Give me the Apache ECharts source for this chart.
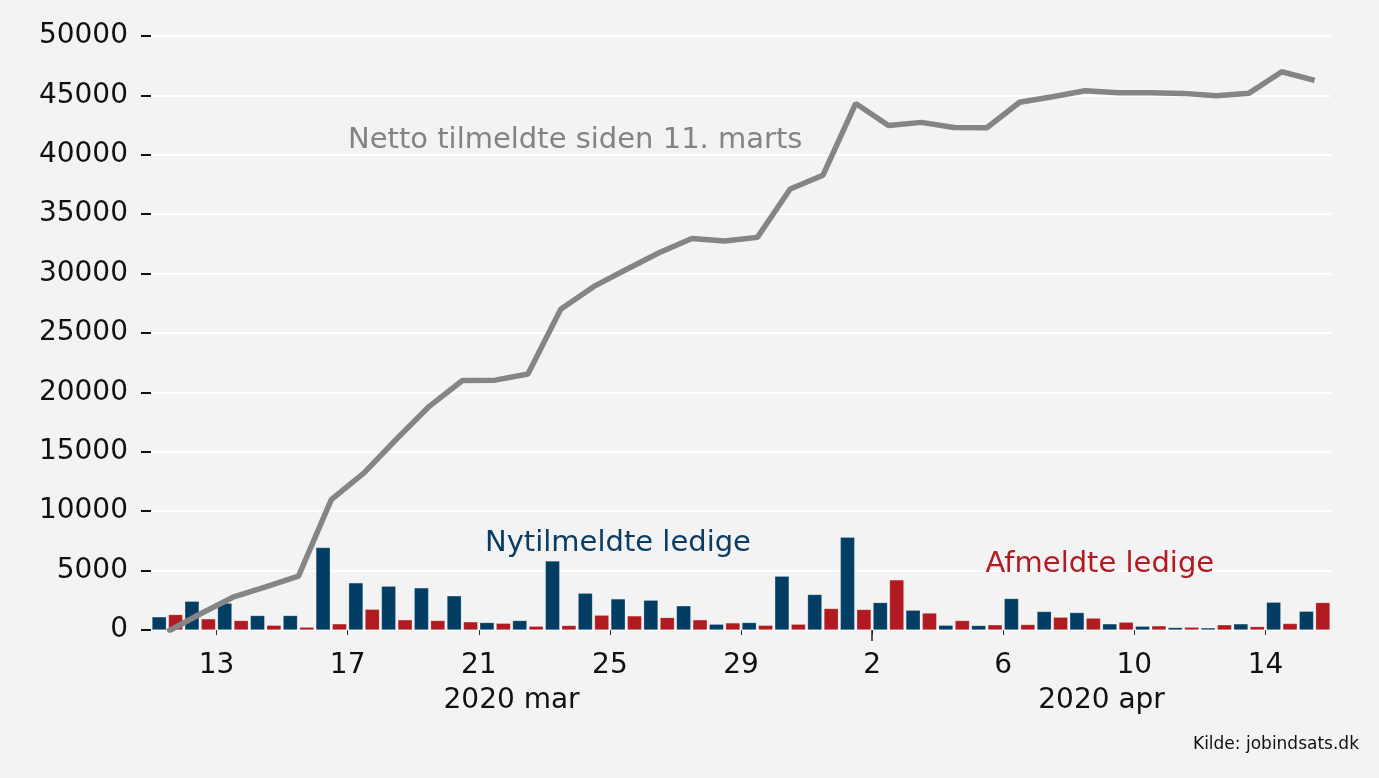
<!DOCTYPE html>
<html>
<head>
<meta charset="utf-8">
<script src="https://cdn.jsdelivr.net/npm/echarts@6.0.0/dist/echarts.min.js"></script>
<style>
  html, body { margin: 0; padding: 0; background: #f3f3f3; }
  #chart { width: 1379px; height: 778px; }
</style>
</head>
<body>
<div id="chart"></div>
<script>
// dage (hver dag fylder et bånd fra midnat til midnat)
const days = [
  '2020-03-11', '2020-03-12', '2020-03-13', '2020-03-14', '2020-03-15', '2020-03-16',
  '2020-03-17', '2020-03-18', '2020-03-19', '2020-03-20', '2020-03-21', '2020-03-22',
  '2020-03-23', '2020-03-24', '2020-03-25', '2020-03-26', '2020-03-27', '2020-03-28',
  '2020-03-29', '2020-03-30', '2020-03-31', '2020-04-01', '2020-04-02', '2020-04-03',
  '2020-04-04', '2020-04-05', '2020-04-06', '2020-04-07', '2020-04-08', '2020-04-09',
  '2020-04-10', '2020-04-11', '2020-04-12', '2020-04-13', '2020-04-14', '2020-04-15'
]
const nytilmeldte = [
  1110, 2420, 2260, 1220, 1220, 6940, 3970, 3690, 3550, 2880, 630, 800,
  5820, 3100, 2620, 2510, 2040, 490, 630, 4530, 2990, 7810, 2310, 1670,
  400, 380, 2650, 1560, 1470, 520, 320, 210, 180, 520, 2340, 1580
]
const afmeldte = [
  1300, 940, 800, 400, 240, 520, 1750, 860, 800, 690, 570, 320,
  380, 1250, 1190, 1050, 860, 600, 400, 490, 1810, 1730, 4220, 1430,
  800, 440, 460, 1080, 1000, 660, 350, 240, 440, 290, 550, 2310
]
const netto = [
  -150, 1350, 2760, 3630, 4540, 10980, 13230, 16100, 18850, 21000, 21030, 21550,
  27000, 28900, 30350, 31750, 32950, 32750, 33050, 37120, 38280, 44320, 42470, 42730,
  42300, 42280, 44420, 44890, 45390, 45220, 45220, 45170, 44970, 45190, 46990, 46260
]
// akser
const xTickDays = ['2020-03-13', '2020-03-17', '2020-03-21', '2020-03-25', '2020-03-29',
  '2020-04-02', '2020-04-06', '2020-04-10', '2020-04-14']
const xTickLabels = ['13', '17', '21', '25', '29', '2', '6', '10', '14']
const monthLabels = ['2020 mar', '2020 apr']
const monthLabelAt = [11, 29]
const yMin = 0
const yMax = 50000
const yStep = 5000

const font = 'DejaVu Sans'
const tickPos = xTickDays.map(d => days.indexOf(d))
const toPoints = arr => arr.map((v, i) => [i + 0.5, v])

const myChart = echarts.init(document.getElementById('chart'))
myChart.setOption({
  animation: false,
  backgroundColor: '#f3f3f3',
  textStyle: { fontFamily: font },
  title: {
    text: 'Kilde: jobindsats.dk',
    right: 20,
    top: 736,
    padding: 0,
    textStyle: { fontFamily: font, fontSize: 17, fontWeight: 'normal', color: '#111' }
  },
  grid: { left: 151, right: 48, top: 36, bottom: 148 },
  xAxis: [
    {
      type: 'value',
      min: 0,
      max: days.length,
      axisLine: { show: false },
      splitLine: { show: false },
      axisTick: {
        show: true,
        customValues: tickPos,
        length: 5,
        lineStyle: { color: '#333', width: 1 }
      },
      axisLabel: {
        customValues: tickPos,
        margin: 22,
        fontSize: 28,
        color: '#111',
        fontFamily: font,
        formatter: v => xTickLabels[tickPos.indexOf(v)]
      }
    },
    {
      // månedslinje + lang streg ved 2. april
      type: 'value',
      position: 'bottom',
      min: 0,
      max: days.length,
      axisLine: { show: false },
      splitLine: { show: false },
      axisTick: {
        show: true,
        customValues: [days.indexOf('2020-04-02')],
        length: 11,
        lineStyle: { color: '#222', width: 1.5 }
      },
      axisLabel: {
        customValues: monthLabelAt,
        margin: 57,
        fontSize: 28,
        color: '#111',
        fontFamily: font,
        formatter: v => monthLabels[monthLabelAt.indexOf(v)]
      }
    }
  ],
  yAxis: {
    type: 'value',
    min: yMin,
    max: yMax,
    interval: yStep,
    axisLine: { show: false },
    axisTick: { show: true, length: 10, lineStyle: { color: '#111', width: 2 } },
    axisLabel: {
      margin: 23,
      fontSize: 28,
      color: '#111',
      fontFamily: font,
      formatter: v => String(v)
    },
    splitLine: { show: true, lineStyle: { color: '#ffffff', width: 2 } }
  },
  series: [
    {
      name: 'Nytilmeldte ledige',
      type: 'bar',
      data: toPoints(nytilmeldte),
      barGap: '14%',
      barCategoryGap: '6%',
      itemStyle: { color: '#023d63', borderColor: 'rgba(255,255,255,0.35)', borderWidth: 0.6 }
    },
    {
      name: 'Afmeldte ledige',
      type: 'bar',
      data: toPoints(afmeldte),
      barGap: '14%',
      barCategoryGap: '6%',
      itemStyle: { color: '#b21a21', borderColor: 'rgba(255,255,255,0.35)', borderWidth: 0.6 }
    },
    {
      name: 'Netto tilmeldte siden 11. marts',
      type: 'line',
      data: toPoints(netto),
      showSymbol: false,
      symbol: 'none',
      z: 5,
      lineStyle: { color: '#858585', width: 5.5 },
      markPoint: {
        symbolSize: 0,
        silent: true,
        data: [
          {
            name: 'Netto tilmeldte siden 11. marts',
            coord: [6.01, 41200],
            label: { color: '#838383' }
          },
          {
            name: 'Nytilmeldte ledige',
            coord: [10.19, 7280],
            label: { color: '#0b3d63' }
          },
          {
            name: 'Afmeldte ledige',
            coord: [25.46, 5510],
            label: { color: '#b01c22' }
          }
        ],
        label: {
          show: true,
          formatter: '{b}',
          position: [0, 0],
          align: 'left',
          verticalAlign: 'middle',
          fontSize: 29,
          fontFamily: font
        }
      }
    }
  ]
})
</script>
</body>
</html>
